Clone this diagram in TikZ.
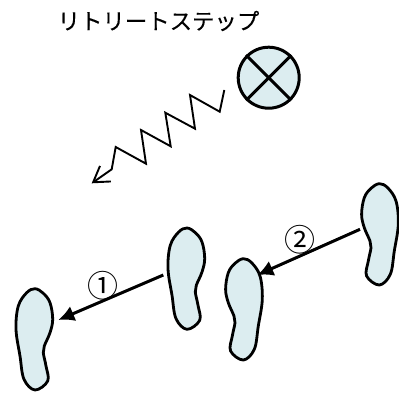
\documentclass[tikz,border=0pt]{standalone}
\usepackage{fontspec}
\newfontfamily\jpfont{Noto Sans CJK JP}[FakeBold=0.25]
\newfontfamily\numfont{Noto Sans CJK JP}
\usepackage{xcolor}
\definecolor{soleblue}{HTML}{DCEDF0}
\usetikzlibrary{arrows.meta}
\tikzset{
  sole/.style={draw=black, fill=soleblue, line width=2.8pt, line join=round},
  stepar/.style={-{Latex[length=16pt,width=16pt]}, draw=black, line width=3pt},
  zigar/.style={-{Straight Barb[length=15pt,width=19pt]}, draw=black, line width=1.9pt},
  lbl/.style={inner sep=0pt},
  numlbl/.style={lbl, font=\numfont\fontsize{31pt}{33pt}\selectfont},
  foot/.pic={
    \draw[sole] plot[smooth cycle, tension=0.6] coordinates {
      (0,-51.3) (8.3,-46.7) (15,-37.3) (17.7,-20.7) (15,-7.3) (9.3,6) (8.3,12.7)
      (11,26) (12.7,41) (0,50) (-11,39.3) (-15,16) (-19,-10.7) (-16.7,-34) (-8.3,-47.3)};
  },
}
\begin{document}
\begin{tikzpicture}[x=1pt, y=-1pt]
  \useasboundingbox (0,0) rectangle (399,392);
  \node[lbl, font=\jpfont\fontsize{22.4pt}{25pt}\selectfont] (title) at (158.5,21) {リトリートステップ};
  % source
  \node[circle, sole, minimum size=61pt, inner sep=0pt, line width=3pt] (src) at (268.7,77.7) {};
  \draw[line width=3pt] (src.45) -- (src.225);
  \draw[line width=3pt] (src.135) -- (src.315);
  % wave
  \coordinate (zstart) at (224.3,90);
  \coordinate (zend) at (91.7,183.3);
  \draw[zigar] (zstart) -- (219.7,111.7) -- (190,95) -- (195,128.7) -- (165.3,112.7)
    -- (170.7,146.3) -- (141,130) -- (146,163.7) -- (115.7,147) -- (111.7,169.3) -- (zend);
  % feet
  \path (35,340) pic {foot};
  \path (187,279.3) pic {foot};
  \path (243.3,310) pic[xscale=-1] {foot};
  \path (379.3,235) pic[xscale=-1] {foot};
  % steps
  \coordinate (a1) at (163.3,275);
  \coordinate (a2) at (58.3,320);
  \coordinate (b1) at (360,229.3);
  \coordinate (b2) at (257.3,275);
  \draw[stepar] (a1) -- (a2);
  \draw[stepar] (b1) -- (b2);
  \node[numlbl] (one) at (103.3,286) {①};
  \node[numlbl] (two) at (300.3,239.3) {②};
\end{tikzpicture}
\end{document}
